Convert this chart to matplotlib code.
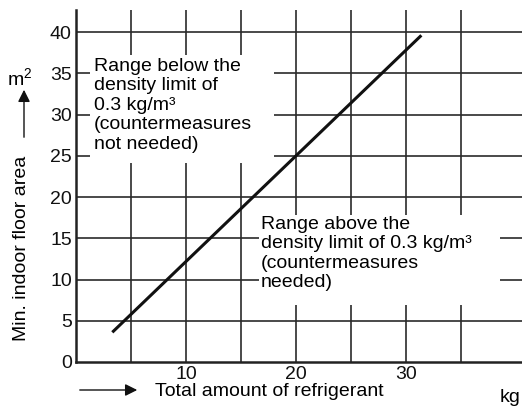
import numpy as np
from matplotlib import pyplot as plt
from matplotlib.patches import Rectangle
import matplotlib
matplotlib.rcParams['font.family'] = ['Liberation Sans', 'DejaVu Sans']
matplotlib.rcParams['mathtext.fontset'] = 'custom'
matplotlib.rcParams['mathtext.rm'] = 'Liberation Sans'

# 数据
x_line = [3.3, 31.4]      # kg
y_line = [3.6, 39.6]      # m2
x_ticks = [10, 20, 30]
x_grid = [5, 10, 15, 20, 25, 30, 35]
y_ticks = [0, 5, 10, 15, 20, 25, 30, 35, 40]
txt_below = "Range below the\ndensity limit of\n0.3 kg/m³\n(countermeasures\nnot needed)"
txt_above = "Range above the\ndensity limit of 0.3 kg/m³\n(countermeasures\nneeded)"

W, H = 522, 407
def px(x, y):  # 像素坐标(左上原点) -> figure fraction
    return x / W, 1 - y / H

fig = plt.figure(figsize=(W/100, H/100), dpi=100)
ax = fig.add_axes([76/W, 1-362/H, 1-76/W, (362-10)/H])
ax.set_xlim(0, 40.55)
ax.set_ylim(0, 42.67)

gc = '#2a2a2a'
for xv in x_grid:
    ax.axvline(xv, color=gc, lw=1.2, zorder=1)
for yv in y_ticks[1:]:
    ax.axhline(yv, color=gc, lw=1.2, zorder=1)

ax.plot(x_line, y_line, color='#111111', lw=2.2, zorder=3, solid_capstyle='butt')

for s in ['top', 'right']:
    ax.spines[s].set_visible(False)
for s in ['left', 'bottom']:
    ax.spines[s].set_linewidth(1.8)
    ax.spines[s].set_color('#222222')

ax.set_xticks(x_ticks)
ax.set_yticks(y_ticks)
ax.tick_params(length=0, labelsize=14, colors='#111111', pad=3)
ax.tick_params(axis='x', pad=3)

# 白色遮罩, 盖住网格
for (x0, y0, x1, y1) in [(90, 55, 274, 163), (259, 215, 500, 305)]:
    r = Rectangle(px(x0, y1), (x1-x0)/W, (y1-y0)/H, transform=fig.transFigure,
                  facecolor='white', edgecolor='none', zorder=2)
    ax.add_patch(r)

fig.text(*px(94, 58), txt_below, fontsize=14, va='top', ha='left', linespacing=1.19, zorder=5)
fig.text(*px(261, 216), txt_above, fontsize=14, va='top', ha='left', linespacing=1.19, zorder=5)

# 轴标题和箭头
fig.text(*px(22, 248), "Min. indoor floor area", rotation=90, fontsize=14,
         ha='center', va='center')
fig.text(*px(20, 78), "m$\\mathregular{^2}$", fontsize=14, ha='center', va='center')
ax.annotate('', xy=px(24, 87), xytext=px(24, 140), xycoords='figure fraction',
            arrowprops=dict(arrowstyle='-|>', color='#111111', lw=1.0, mutation_scale=18))
ax.annotate('', xy=px(140, 390), xytext=px(77, 390), xycoords='figure fraction',
            arrowprops=dict(arrowstyle='-|>', color='#111111', lw=1.0, mutation_scale=18))
fig.text(*px(155, 392), "Total amount of refrigerant", fontsize=14, ha='left', va='center')
fig.text(*px(500, 397), "kg", fontsize=14, ha='left', va='center')

fig.savefig('out.png', dpi=100)
